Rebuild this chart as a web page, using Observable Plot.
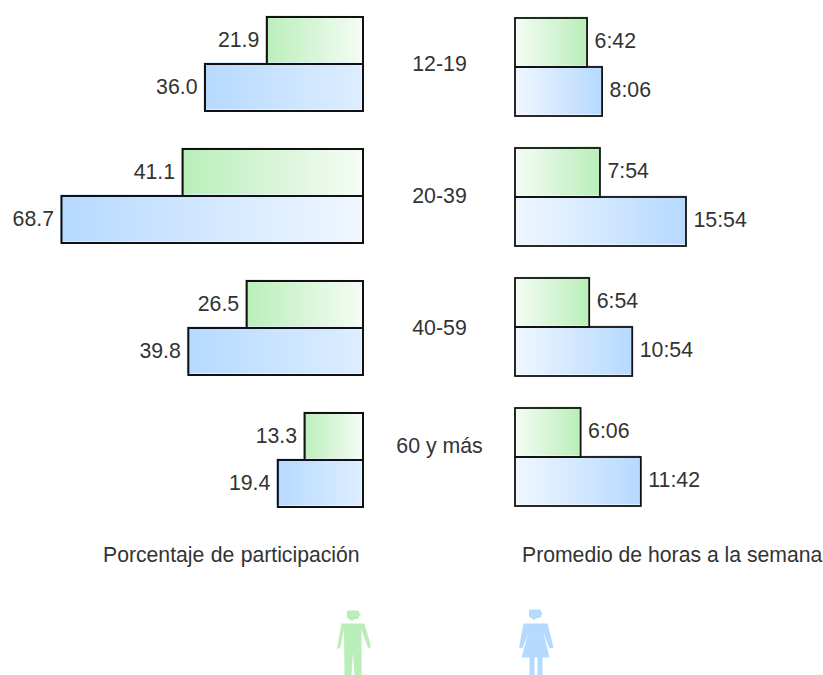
<!DOCTYPE html>
<html><head><meta charset="utf-8">
<script src="https://cdn.jsdelivr.net/npm/d3@7"></script>
<script src="https://cdn.jsdelivr.net/npm/@observablehq/plot@0.6"></script>
<style>
html,body{margin:0;padding:0;background:#fff;overflow:hidden}
#page{position:relative;width:823px;height:675px;font-family:"Liberation Sans",Arial,sans-serif;color:#333}
#page>svg,#page>.t{position:absolute}
.t{white-space:pre;top:543px}
</style></head><body><div id="page"></div>
<script>
const ages = ["12-19","20-39","40-59","60 y más"];
const sexes = ["Hombres","Mujeres"];
const menPct = [21.9,41.1,26.5,13.3];
const womenPct = [36.0,68.7,39.8,19.4];
const menHours = ["6:42","7:54","6:54","6:06"];
const womenHours = ["8:06","15:54","10:54","11:42"];
const leftTitle = "Porcentaje de participación";
const rightTitle = "Promedio de horas a la semana";
const colors = {Hombres:"#b9eeb9",Mujeres:"#b6d9ff"};
const pale = {Hombres:"#f5fcf5",Mujeres:"#f0f7ff"};
const paleShort = "#ddeeff";
const toH = s => {const [h,m]=s.split(":");return +h + m/60;};

const rows = (a,b,f,l) => ages.flatMap((age,i)=>[
  {age,sex:"Hombres",value:f(a[i]),label:l(a[i])},
  {age,sex:"Mujeres",value:f(b[i]),label:l(b[i])}]);
const left = rows(menPct,womenPct,d=>d,d=>d.toFixed(1));
const right = rows(menHours,womenHours,toH,d=>d);

function gradDefs(side){
  const L = side==="L";
  return ()=>{
    const g = d3.create("svg:defs");
    const add=(id,c,p)=>{
      const lg = g.append("linearGradient").attr("id",id);
      lg.append("stop").attr("offset",0).attr("stop-color",L?c:p);
      lg.append("stop").attr("offset",1).attr("stop-color",L?p:c);
    };
    for (const s of sexes) add(side+s,colors[s],pale[s]);
    add(side+"Short",colors.Mujeres,paleShort);
    return g.node();
  };
}
const font = {fontSize:21.3,fill:"#333",fontFamily:"Liberation Sans"};
function panel(data,side,opt){
  const L = side==="L";
  const fillOf = d => L && d.sex==="Mujeres" && d.value<50 ? `url(#${side}Short)` : `url(#${side}${d.sex})`;
  return Plot.plot({
    width:opt.width,height:opt.height,
    marginTop:opt.top,marginBottom:opt.bottom,marginLeft:0,marginRight:0,
    style:{background:"transparent",overflow:"visible"},
    x:{domain:opt.domain,range:opt.range,axis:null},
    y:{domain:sexes,axis:null,padding:0},
    fy:{domain:ages,axis:null,paddingInner:opt.pad,paddingOuter:0},
    marks:[
      gradDefs(side),
      Plot.barX(data,{x:"value",y:"sex",fy:"age",dx:L?-1.5:0,dy:-1.5,fill:{value:fillOf,scale:null}}),
      Plot.barX(data,{x:"value",y:"sex",fy:"age",fill:"none",stroke:"#111",strokeWidth:opt.sw}),
      Plot.text(data,{x:"value",y:"sex",fy:"age",text:"label",textAnchor:L?"end":"start",dx:L?-8:7,dy:opt.labelDy,...font}),
      ...(opt.center?[Plot.text(ages.slice(0,3),{fy:d=>d,text:d=>d,frameAnchor:"right",textAnchor:"middle",dx:-opt.center,dy:0,...font}),
        Plot.text(ages.slice(3),{fy:d=>d,text:d=>d,frameAnchor:"right",textAnchor:"middle",dx:-opt.center,dy:-14,...font})]:[])
    ]
  });
}
const page = document.getElementById("page");
const lp = panel(left,"L",{width:515,height:545,top:17,bottom:38,domain:[68.7,0],range:[61.5,363],pad:0.288,center:76,sw:2,labelDy:-1});
lp.style.left="0px";lp.style.top="0px";page.append(lp);
const rp = panel(right,"R",{width:308,height:545,top:18,bottom:39,domain:[0,15.9],range:[0,171],pad:0.25,sw:1.8,labelDy:-2});
rp.style.left="515px";rp.style.top="0px";page.append(rp);

for (const [txt,x,ws,fs] of [[leftTitle,103,0.5,21.2],[rightTitle,522,0,21.2]]){
  const t=document.createElement("div");t.className="t";t.textContent=txt;t.style.left=x+"px";t.style.wordSpacing=ws+"px";t.style.fontSize=fs+"px";page.append(t);
}
const poly=(c,p)=>{p.forEach((q,i)=>i?c.lineTo(q[0],q[1]):c.moveTo(q[0],q[1]));c.closePath();};
const man={draw(c){
  poly(c,[[-5,-25],[6,-25],[7,-22],[9,-21],[7,-20],[6,-17],[1,-16],[0,-14.5],[-3,-16],[-5.5,-18],[-5.5,-23]]);
  poly(c,[[-11,-12],[12,-12],[18.5,11],[16,13],[15,11],[9,-6],[9,40],[2,40],[0.5,17],[-1,40],[-8,40],[-8.5,-6],[-12,11],[-13,13],[-15.5,13]]);}};
const woman={draw(c){
  poly(c,[[-7,-26],[4,-26],[5,-23],[6.5,-22],[5,-21],[4,-18],[-1,-17],[-2,-15],[-5,-17],[-7.5,-19],[-7.5,-24]]);
  poly(c,[[-13,-12],[11,-12],[17,12],[13,13],[7,-3],[13,22],[6,22],[6,40],[1,40],[1,22],[-2,22],[-2,40],[-7,40],[-7,22],[-15,22],[-8,-3],[-14,13],[-17.5,12]]);}};
const ic = Plot.plot({width:823,height:80,margin:0,style:{background:"transparent"},
  x:{type:"point",domain:sexes,range:[351.5,536],padding:0,axis:null},
  marks:[
   Plot.dot(sexes.slice(0,1),{x:d=>d,frameAnchor:"middle",symbol:man,r:5,fill:colors.Hombres,stroke:"none"}),
   Plot.dot(sexes.slice(1),{x:d=>d,frameAnchor:"middle",symbol:woman,r:5,fill:colors.Mujeres,stroke:"none"})
  ]});
ic.style.left="0px";ic.style.top="595px";page.append(ic);
</script></body></html>
